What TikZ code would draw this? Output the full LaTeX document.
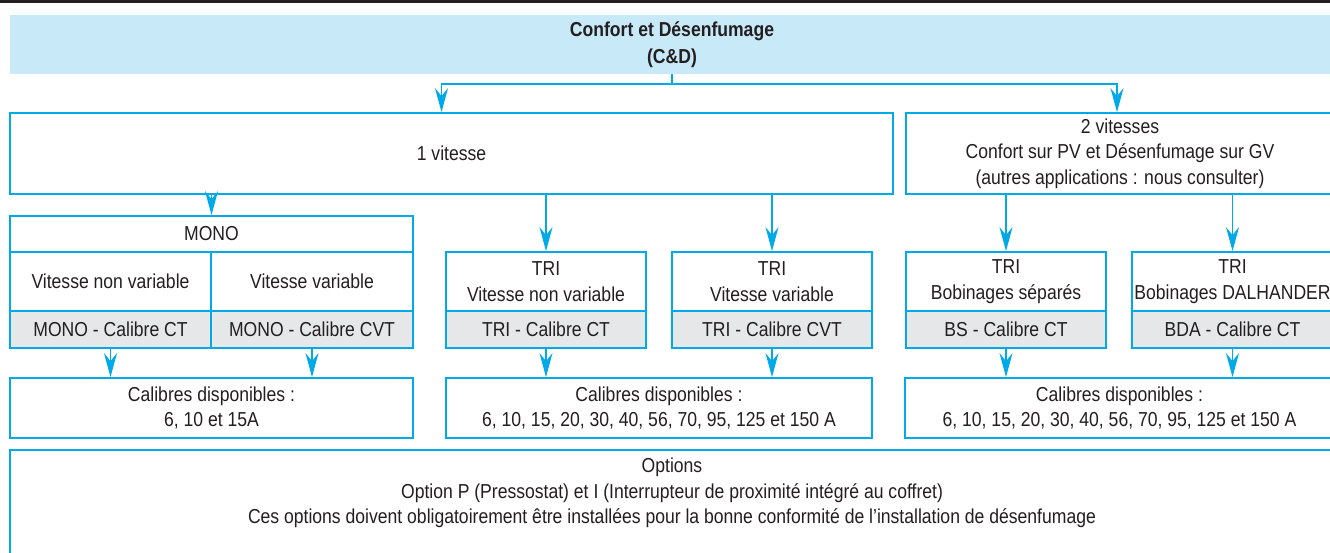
\documentclass[tikz,border=0pt]{standalone}
\usepackage{fontspec}
\setmainfont{Liberation Sans}[FakeStretch=0.87]
\usetikzlibrary{arrows.meta}
\definecolor{cdcyan}{RGB}{0,170,232}
\definecolor{cdtitle}{RGB}{200,233,248}
\definecolor{cdgray}{RGB}{230,231,233}
\definecolor{cdtext}{RGB}{35,31,32}

\begin{document}
\begin{tikzpicture}[x=1pt, y=-1pt,
          font=\fontsize{20.2}{25.5}\selectfont, text=cdtext,
          bluebox/.style={rectangle, draw=cdcyan, line width=1.8, fill=white,
            align=center, inner sep=0},
          graybox/.style={bluebox, fill=cdgray},
          titlebox/.style={rectangle, fill=cdtitle, align=center, inner sep=0,
            font=\fontsize{20.2}{26.5}\selectfont\bfseries},
          wire/.style={draw=cdcyan, line width=1.2},
          feed/.style={wire, -{Stealth[length=24, width=13, inset=8]}}]

        \useasboundingbox (0,0) rectangle (1330,552);
        \clip (0,0) rectangle (1330,552);
        \draw[cdtext, line width=3] (0,1.5) -- (1330,1.5);

        \node[titlebox, minimum width=1324, minimum height=59] (title) at (672,44.5)
          {Confort et Désenfumage\\(C\&D)};

        \node[bluebox, minimum width=883, minimum height=81] (v1) at (451.5,153.5) {1 vitesse};
        \node[bluebox, minimum width=428, minimum height=81] (v2) at (1120,153.5)
          {2 vitesses\\Confort sur PV et Désenfumage sur GV\\(autres applications : nous consulter)};

        \coordinate (split) at (672,84);
        \draw[wire] (title.south) -- (split);
        \draw[feed] (split) -| ([xshift=-10]v1.north);
        \draw[feed] (split) -| ([xshift=-3]v2.north);

        % mono
        \node[bluebox, minimum width=403, minimum height=36] (mono)  at (211.5,234) {MONO};
        \node[bluebox, minimum width=201, minimum height=59] (monoA) at (110.5,281.5) {Vitesse non variable};
        \node[bluebox, minimum width=202, minimum height=59] (monoB) at (312,281.5) {Vitesse variable};
        \node[graybox, minimum width=201, minimum height=37] (monoAc) at (110.5,329.5) {MONO - Calibre CT};
        \node[graybox, minimum width=202, minimum height=37] (monoBc) at (312,329.5) {MONO - Calibre CVT};

        % tri
        \node[bluebox, minimum width=200, minimum height=59] (triA)  at (546,281.5) {TRI\\Vitesse non variable};
        \node[bluebox, minimum width=200, minimum height=59] (triB)  at (772,281.5) {TRI\\Vitesse variable};
        \node[graybox, minimum width=200, minimum height=37] (triAc) at (546,329.5) {TRI - Calibre CT};
        \node[graybox, minimum width=200, minimum height=37] (triBc) at (772,329.5) {TRI - Calibre CVT};

        % 2 vitesses
        \node[bluebox, minimum width=200, minimum height=59] (bs)   at (1006,281.5) {TRI\\Bobinages séparés};
        \node[bluebox, minimum width=201, minimum height=59] (bda)  at (1232.5,281.5) {TRI\\Bobinages DALHANDER};
        \node[graybox, minimum width=200, minimum height=37] (bsc)  at (1006,329.5) {BS - Calibre CT};
        \node[graybox, minimum width=201, minimum height=37] (bdac) at (1232.5,329.5) {BDA - Calibre CT};

        \draw[feed] (v1.south -| mono.north) -- (mono.north);
        \draw[feed] (v1.south -| triA.north) -- (triA.north);
        \draw[feed] (v1.south -| triB.north) -- (triB.north);
        \draw[feed] (v2.south -| bs.north)   -- (bs.north);
        \draw[feed] (v2.south -| bda.north)  -- (bda.north);

        % calibres
        \node[bluebox, minimum width=403, minimum height=60] (calA) at (211.5,408)
          {Calibres disponibles :\\6, 10 et 15A};
        \node[bluebox, minimum width=426, minimum height=60] (calB) at (659,408)
          {Calibres disponibles :\\6, 10, 15, 20, 30, 40, 56, 70, 95, 125 et 150 A};
        \node[bluebox, minimum width=429, minimum height=60] (calC) at (1119.5,408)
          {Calibres disponibles :\\6, 10, 15, 20, 30, 40, 56, 70, 95, 125 et 150 A};

        \draw[feed] (monoAc.south) -- (monoAc.south |- calA.north);
        \draw[feed] (monoBc.south) -- (monoBc.south |- calA.north);
        \draw[feed] (triAc.south)  -- (triAc.south |- calB.north);
        \draw[feed] (triBc.south)  -- (triBc.south |- calB.north);
        \draw[feed] (bsc.south)    -- (bsc.south |- calC.north);
        \draw[feed] (bdac.south)   -- (bdac.south |- calC.north);

        \node[bluebox, anchor=north, minimum width=1324, inner ysep=8, text depth=80] (opt) at (672,449)
          {Options\\Option P (Pressostat) et I (Interrupteur de proximité intégré au coffret)\\Ces options doivent obligatoirement être installées pour la bonne conformité de l’installation de désenfumage};

      \end{tikzpicture}
\end{document}
